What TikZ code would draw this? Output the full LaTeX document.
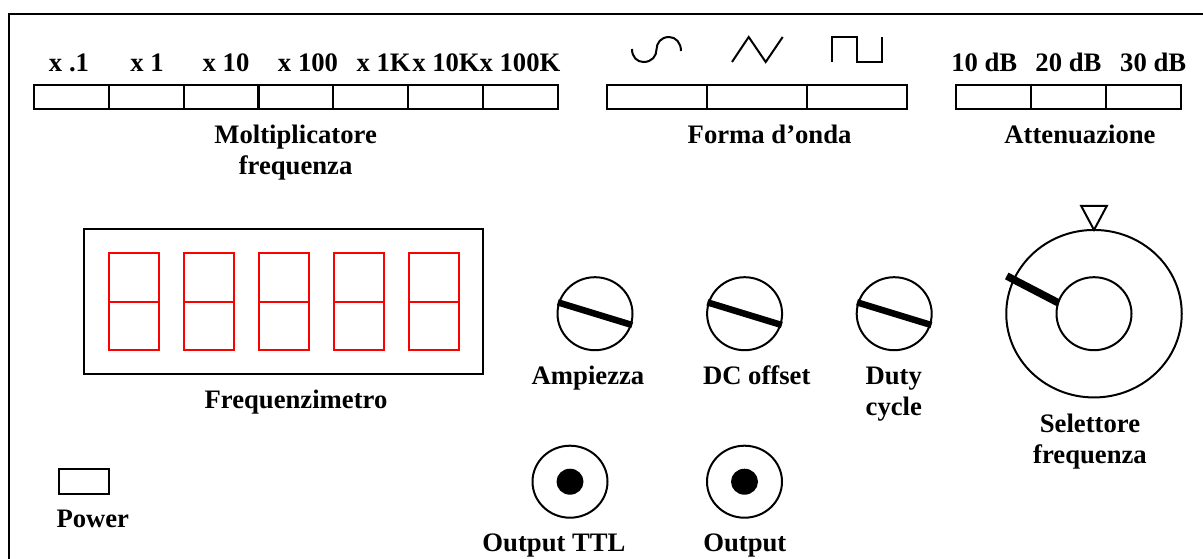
\documentclass[tikz,border=0pt]{standalone}
\usepackage{fontspec}
\setmainfont{Liberation Serif}
\usepackage{tikz}
\usetikzlibrary{positioning, shapes.geometric}

\begin{document}
\begin{tikzpicture}[x=1pt, y=-1pt, line width=2pt, node distance=75pt,
		btn/.style={draw, rectangle, inner sep=0pt, outer sep=0pt, minimum width=75pt, minimum height=24pt},
		wavebtn/.style={btn, minimum width=100pt},
		digit/.style={draw=red, rectangle, inner sep=0pt, outer sep=0pt, minimum width=50pt, minimum height=97pt},
		knob/.style={draw, ellipse, inner sep=0pt, outer sep=0pt, minimum width=75pt, minimum height=73pt},
		jackhole/.style={fill=black, ellipse, inner sep=0pt, outer sep=0pt, minimum width=27pt, minimum height=26pt},
		lbl/.style={anchor=base, align=center, inner sep=0pt, font=\fontsize{26.67}{31}\selectfont\bfseries},
		pointer/.style={line width=6.5pt, shorten <=-1.5pt, shorten >=-1.5pt}]
		\useasboundingbox (0,0) rectangle (1203,559);
		\draw (1203,14) -- (9,14) -- (9,559);
		
		% Moltiplicatore
		\node (mult1) [btn] at (71.2,97.5) {};
		\node (mult2) [btn, right of=mult1, node distance=74.9pt] {};
		\node (mult3) [btn, right of=mult2, node distance=74.9pt] {};
		\node (mult4) [btn, right of=mult3, node distance=74.9pt] {};
		\node (mult5) [btn, right of=mult4, node distance=74.9pt] {};
		\node (mult6) [btn, right of=mult5, node distance=74.9pt] {};
		\node (mult7) [btn, right of=mult6, node distance=74.9pt] {};
		\node (multA) [lbl] at (69,72) {x .1};
		\node (multB) [lbl] at (147,72) {x 1};
		\node (multC) [lbl] at (226,72) {x 10};
		\node (multD) [lbl] at (308,72) {x 100};
		\node (multE) [lbl] at (383.6,72) {x 1K};
		\node (multF) [lbl] at (446,72) {x 10K};
		\node (multG) [lbl] at (520,72) {x 100K};
		\node (multLabel) [lbl] at (295.6,175) {Moltiplicatore\\frequenza};
		
		% Forma d'onda
		\node (wave1) [wavebtn] at (657.3,97.5) {};
		\node (wave2) [wavebtn, right of=wave1, node distance=99.8pt] {};
		\node (wave3) [wavebtn, right of=wave2, node distance=99.8pt] {};
		\node (waveLabel) [lbl] at (769.6,144) {Forma d’onda};
		\draw (632,49) .. controls (632,57) and (637,62) .. (643.5,62) .. controls (652,62) and (656.5,56) .. (656.5,49.5) .. controls (656.5,43) and (661,37) .. (669,37) .. controls (676,37) and (681,43) .. (681,51);
		\draw (732,62) -- (748.7,37) -- (765.7,62) -- (782.7,37);
		\draw (831.7,62) -- (831.7,37) -- (857,37) -- (857,62) -- (882.3,62) -- (882.3,37);
		
		% Attenuazione
		\node (att1) [btn] at (993.5,97.5) {};
		\node (att2) [btn, right of=att1] {};
		\node (att3) [btn, right of=att2] {};
		\node (attA) [lbl] at (984.3,72) {10 dB};
		\node (attB) [lbl] at (1068.4,72) {20 dB};
		\node (attC) [lbl] at (1153.2,72) {30 dB};
		\node (attLabel) [lbl] at (1080,144) {Attenuazione};
		
		% Frequenzimetro
		\node (display) [draw, rectangle, inner sep=0pt, outer sep=0pt, minimum width=399.5pt, minimum height=144.5pt] at (283.5,301.5) {};
		\node (digit1) [digit] at (133.7,301.5) {};
		\node (digit2) [digit, right of=digit1] {};
		\node (digit3) [digit, right of=digit2] {};
		\node (digit4) [digit, right of=digit3] {};
		\node (digit5) [digit, right of=digit4] {};
		\draw[red] (digit1.west) -- (digit1.east);
		\draw[red] (digit2.west) -- (digit2.east);
		\draw[red] (digit3.west) -- (digit3.east);
		\draw[red] (digit4.west) -- (digit4.east);
		\draw[red] (digit5.west) -- (digit5.east);
		\node (displayLabel) [lbl] at (296,408) {Frequenzimetro};
		
		% Power
		\node (power) [btn, minimum width=50.5pt, minimum height=25pt] at (83.8,481.5) {};
		\node (powerLabel) [lbl] at (92.8,527.7) {Power};
		
		% Manopole
		\node (ampiezza) [knob] at (595,313.7) {};
		\node (offset) [knob, right of=ampiezza, node distance=149.6pt] {};
		\node (duty) [knob, right of=offset, node distance=149.6pt] {};
		\draw[pointer] (ampiezza.163) -- (ampiezza.343);
		\draw[pointer] (offset.163) -- (offset.343);
		\draw[pointer] (duty.163) -- (duty.343);
		\node (ampiezzaLabel) [lbl] at (588,384) {Ampiezza};
		\node (offsetLabel) [lbl] at (756.7,384) {DC offset};
		\node (dutyLabel) [lbl] at (893.8,415) {Duty\\cycle};
		
		% Selettore
		\node (selOuter) [knob, minimum width=175.5pt, minimum height=167.5pt] at (1094,313.7) {};
		\node (selInner) [knob] at (1094,313.7) {};
		\draw[pointer, line width=7.5pt, shorten <=-8pt, shorten >=0pt] (selOuter.157) -- (selInner.163);
		\draw (selOuter.north) -- ++(-12.8,-24) -- ++(25.6,0) -- cycle;
		\node (selLabel) [lbl] at (1090,463) {Selettore\\frequenza};
		
		% Uscite
		\node (ttl) [knob, minimum height=72pt] at (570,481.7) {};
		\node (output) [knob, minimum height=72pt, right of=ttl, node distance=174.5pt] {};
		\node (ttlHole) [jackhole] at (ttl.center) {};
		\node (outputHole) [jackhole] at (output.center) {};
		\node (ttlLabel) [lbl] at (554,551.7) {Output TTL};
		\node (outputLabel) [lbl] at (744.8,551.7) {Output};
	\end{tikzpicture}
\end{document}
